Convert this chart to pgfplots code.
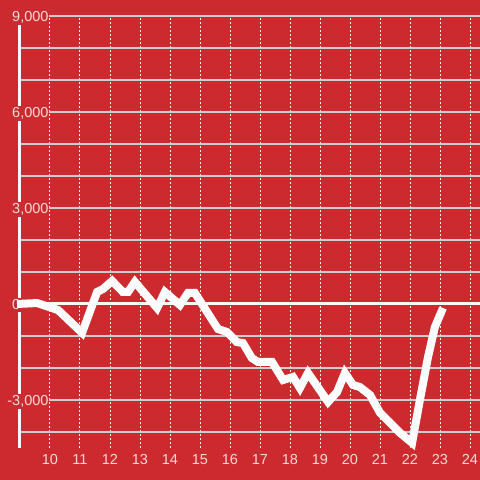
\documentclass[border=0pt]{standalone}
\usepackage{pgfplots}
\pgfplotsset{compat=1.18}
\usepackage{fontspec}
\setmainfont{Liberation Sans}
\definecolor{bgred}{RGB}{204,42,46}
\definecolor{lbl}{RGB}{246,216,216}
\definecolor{gridgray}{RGB}{206,206,206}

\begin{document}
\begin{tikzpicture}
\begin{axis}[
    at={(0pt,0pt)}, anchor=south west,
    scale only axis, width=460pt, height=432pt,
    xmin=9, xmax=24.3333, ymin=-4500, ymax=9000,
    set layers=standard,
    axis line style={draw=none},
    major tick length=0pt,
    clip=false,
    xtick={10,...,24},
    ytick={-4000,-3000,...,9000},
    yticklabels={,{\llap{-}3,000},,,0,,,{3,000},,,{6,000},,,{9,000}},
    xmajorgrids=true, ymajorgrids=true,
    x grid style={white!90!gray, line width=1pt, dash pattern=on 2pt off 2pt},
    y grid style={gridgray, line width=1.3pt},
    tick label style={text=lbl, font=\fontsize{14.5}{15}\selectfont},
    /pgf/number format/assume math mode=true,
    yticklabel style={anchor=base west, xshift=-9pt, yshift=-6pt, fill=bgred, inner xsep=1pt, inner ysep=1.5pt},
    xticklabel style={yshift=-3pt},
]
\begin{pgfonlayer}{axis background}
\fill[bgred] (axis cs:8.3333,-5500) rectangle (axis cs:24.3333,9500);
\end{pgfonlayer}
\begin{pgfonlayer}{axis grid}
\draw[white!96!gray, line width=3pt] (axis cs:9,0) -- (axis cs:24.3333,0);
\draw[white!96!gray, line width=3pt] (axis cs:9,-4500) -- (axis cs:9,9000);
\end{pgfonlayer}
\addplot[white, line width=8pt] coordinates {
(8.9,0) (9.57,30) (10.27,-190) (11.07,-900) (11.57,375) (11.77,470)
(12.07,720) (12.43,375) (12.6,375) (12.83,690) (13.57,-125) (13.83,375)
(14.33,-30) (14.6,345) (14.83,345) (15.6,-780) (15.9,-875) (16.23,-1190)
(16.43,-1220) (16.73,-1690) (16.93,-1810) (17.4,-1810) (17.77,-2375)
(18.1,-2280) (18.33,-2625) (18.6,-2155) (19.27,-3060) (19.57,-2750)
(19.83,-2155) (20.1,-2530) (20.33,-2595) (20.67,-2845) (21.0,-3400)
(21.67,-4030) (22.07,-4340) (22.33,-3000) (22.6,-1660) (22.83,-720)
(23.1,-125)
};
\end{axis}
\pgfresetboundingbox
\useasboundingbox (-20pt,-32pt) rectangle (460pt,448pt);
\end{tikzpicture}
\end{document}
